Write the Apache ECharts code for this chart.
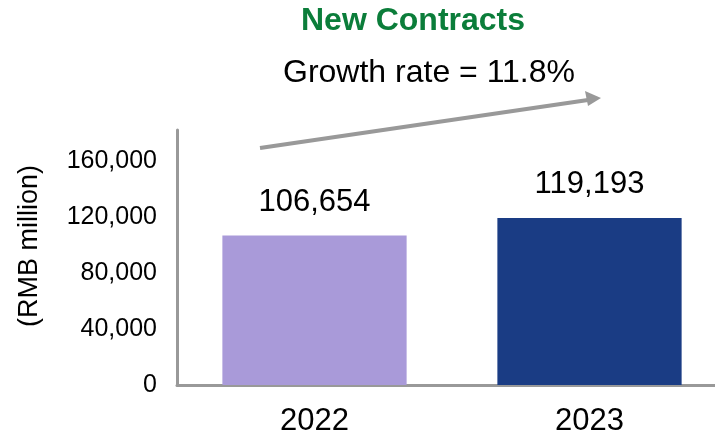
<!DOCTYPE html>
<html>
<head>
<meta charset="utf-8">
<script src="https://cdn.jsdelivr.net/npm/echarts@6/dist/echarts.min.js"></script>
<style>
  html, body { margin: 0; padding: 0; background: #fff; }
  #chart { width: 715px; height: 440px; }
</style>
</head>
<body>
<div id="chart"></div>
<script>
// data
const years = ['2022', '2023']
const contracts = [106654, 119193]
const barColors = ['#A99AD9', '#1A3C84']
const yTicks = [0, 40000, 80000, 120000, 160000]

const font = "'Liberation Sans', Arial, sans-serif"
const chart = echarts.init(document.getElementById('chart'))

const fmt = v => v.toLocaleString('en-US')

chart.setOption({
  animation: false,
  textStyle: { fontFamily: font },
  title: [
    {
      text: 'New Contracts',
      left: 301, top: 5, padding: 0,
      textStyle: { fontFamily: font, fontSize: 32, fontWeight: 'bold', color: '#0B7D3A' }
    },
    {
      text: 'Growth rate = 11.8%',
      left: 283, top: 57, padding: 0,
      textStyle: { fontFamily: font, fontSize: 32, fontWeight: 'normal', color: '#000' }
    }
  ],
  grid: { left: 177, top: 130, width: 550, bottom: 55, outerBoundsMode: 'none' },
  xAxis: {
    type: 'category',
    data: years,
    axisLine: { lineStyle: { color: '#999', width: 3 } },
    axisTick: { show: false },
    axisLabel: { color: '#000', fontSize: 31, margin: 21, fontFamily: font }
  },
  yAxis: {
    type: 'value',
    min: 0,
    max: 182000,
    interval: 40000,
    name: '(RMB million)',
    nameLocation: 'middle',
    nameGap: 134,
    nameRotate: 90,
    nameTextStyle: { color: '#000', fontSize: 27, fontFamily: font, padding: [0, 0, 0, 23] },
    axisLine: { show: true, lineStyle: { color: '#999', width: 3 } },
    axisTick: { show: false },
    splitLine: { show: false },
    axisLabel: {
      color: '#000', fontSize: 25, margin: 20, fontFamily: font,
      showMaxLabel: false,
      formatter: v => (yTicks.includes(v) ? fmt(v) : '')
    }
  },
  series: [{
    type: 'bar',
    barWidth: '67%',
    data: contracts.map((v, i) => ({ value: v, itemStyle: { color: barColors[i] } })),
    label: {
      show: true,
      position: 'top',
      distance: 18,
      color: '#000',
      fontSize: 31,
      fontFamily: font,
      formatter: p => fmt(p.value)
    }
  }],
  graphic: [
    {
      type: 'line',
      shape: { x1: 260, y1: 148, x2: 588, y2: 100 },
      style: { stroke: '#999', lineWidth: 4 }
    },
    {
      type: 'polygon',
      shape: { points: [[601, 98], [585, 91], [588, 106]] },
      style: { fill: '#999' }
    }
  ]
})
</script>
</body>
</html>
